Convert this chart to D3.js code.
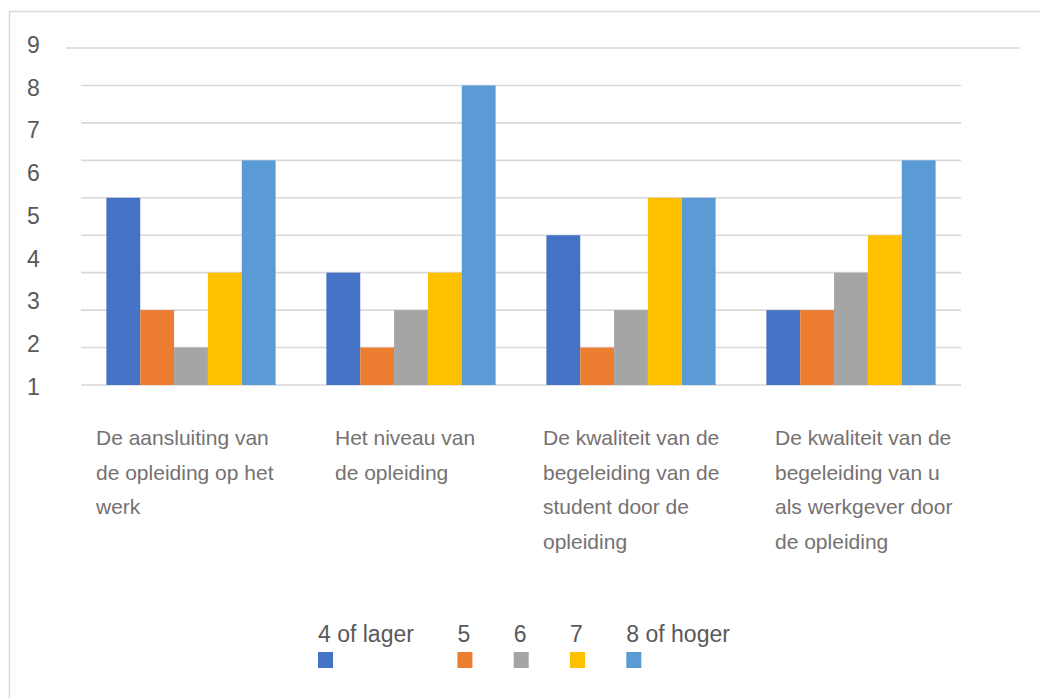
<!DOCTYPE html>
<html>
<head>
<meta charset="utf-8">
<script src="https://cdn.jsdelivr.net/npm/d3@7/dist/d3.min.js"></script>
<style>
  html, body { margin: 0; padding: 0; background: #ffffff; }
  svg { display: block; font-family: "Liberation Sans", Arial, sans-serif; }
</style>
</head>
<body>
<svg id="chart" width="1040" height="698"></svg>
<script>
// Survey questions (category axis), with their wrapped lines
const categories = [
  "De aansluiting van de opleiding op het werk",
  "Het niveau van de opleiding",
  "De kwaliteit van de begeleiding van de student door de opleiding",
  "De kwaliteit van de begeleiding van u als werkgever door de opleiding"
];
const categoryLines = [
  ["De aansluiting van", "de opleiding op het", "werk"],
  ["Het niveau van", "de opleiding"],
  ["De kwaliteit van de", "begeleiding van de", "student door de", "opleiding"],
  ["De kwaliteit van de", "begeleiding van u", "als werkgever door", "de opleiding"]
];

// Score groups (series)
const seriesNames = ["4 of lager", "5", "6", "7", "8 of hoger"];

// Number of answers per score group, one value per question
const values4OfLager = [5, 3, 4, 2];
const values5        = [2, 1, 1, 2];
const values6        = [1, 2, 2, 3];
const values7        = [3, 3, 5, 4];
const values8OfHoger = [6, 8, 5, 6];

// Value axis labels
const tickLabels = ["1", "2", "3", "4", "5", "6", "7", "8", "9"];

const seriesValues = [values4OfLager, values5, values6, values7, values8OfHoger];
const seriesColors = ["#4472C4", "#ED7D31", "#A5A5A5", "#FFC000", "#5B9BD5"];

// ---- layout ----
const plot = { left: 81, right: 961, top: 48, bottom: 385 };
const gridColor = "#d9d9d9";

const svg = d3.select("#chart");

// outer chart frame
svg.append("rect")
  .attr("x", 9.5).attr("y", 11.5)
  .attr("width", 1060).attr("height", 720)
  .attr("fill", "none")
  .attr("stroke", gridColor)
  .attr("stroke-width", 1.5);

const x0 = d3.scaleBand()
  .domain(categories)
  .range([plot.left, plot.right])
  .paddingInner(0).paddingOuter(0);

const x1 = d3.scaleBand()
  .domain(seriesNames)
  .range([0, x0.bandwidth()])
  .paddingInner(0)
  .paddingOuter(0.75);

const y = d3.scaleLinear()
  .domain([0, 9])
  .range([plot.bottom, plot.top]);

// horizontal gridlines
const gridValues = d3.range(0, 10);
svg.append("g")
  .selectAll("line")
  .data(gridValues)
  .join("line")
  .attr("x1", d => d === 9 ? 66 : plot.left)
  .attr("x2", d => d === 9 ? 1020 : plot.right)
  .attr("y1", d => y(d))
  .attr("y2", d => y(d))
  .attr("stroke", gridColor)
  .attr("stroke-width", 1.6);

// value axis labels, set as their own column
const yLabel = d3.scaleLinear().domain([1, 9]).range([386.7, 45]);
svg.append("g")
  .selectAll("text")
  .data(tickLabels)
  .join("text")
  .attr("x", 27)
  .attr("y", d => yLabel(+d))
  .attr("dominant-baseline", "central")
  .attr("font-size", 23)
  .attr("fill", "#595959")
  .text(d => d);

// bars
const barData = [];
categories.forEach((c, ci) => {
  seriesNames.forEach((s, si) => {
    barData.push({ category: c, series: s, value: seriesValues[si][ci], color: seriesColors[si] });
  });
});

svg.append("g")
  .selectAll("rect")
  .data(barData)
  .join("rect")
  .attr("x", d => x0(d.category) + x1(d.series))
  .attr("y", d => y(d.value))
  .attr("width", x1.bandwidth())
  .attr("height", d => y(0) - y(d.value))
  .attr("fill", d => d.color);

// category labels (left-aligned wrapped text under each group)
const labelInset = [15, 34, 22, 34];
const catG = svg.append("g")
  .attr("font-size", 21)
  .attr("fill", "#767171");
categories.forEach((c, ci) => {
  const t = catG.append("text")
    .attr("x", x0(c) + labelInset[ci])
    .attr("y", 445);
  categoryLines[ci].forEach((line, li) => {
    t.append("tspan")
      .attr("x", x0(c) + labelInset[ci])
      .attr("y", 445 + li * 34.7)
      .text(line);
  });
});

// legend: name above, swatch below
const legend = svg.append("g").attr("font-size", 23).attr("fill", "#595959");
let lx = 318;
seriesNames.forEach((s, si) => {
  const g = legend.append("g");
  const t = g.append("text")
    .attr("x", lx)
    .attr("y", 642)
    .text(s);
  g.append("rect")
    .attr("x", lx)
    .attr("y", 652)
    .attr("width", 15)
    .attr("height", 16)
    .attr("fill", seriesColors[si]);
  lx += t.node().getComputedTextLength() + 43.5;
});
</script>
</body>
</html>
